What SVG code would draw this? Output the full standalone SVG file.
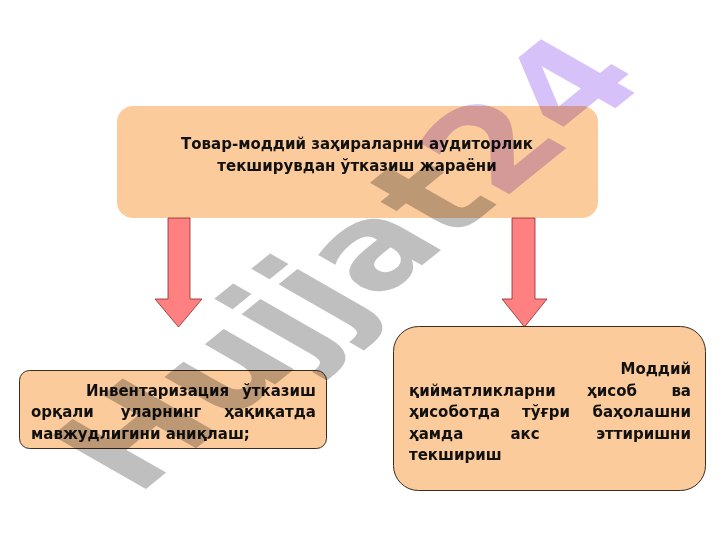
<svg xmlns="http://www.w3.org/2000/svg" width="720" height="540" viewBox="0 0 720 540">
  <style>
    .box { fill: #FCCB9B; }
    .boxs { fill: #FCCB9B; stroke: #3a2a20; stroke-width: 1; }
    .t { font-family: "DejaVu Sans", "Liberation Sans", sans-serif; font-weight: bold; font-size: 15px; fill: #111111; }
    .arrow { fill: #FF8080; stroke: #8a2a2a; stroke-width: 0.8; }
    .wm { font-family: "DejaVu Sans", "Liberation Sans", sans-serif; font-weight: bold; font-size: 114px; mix-blend-mode: multiply; }
  </style>
  <rect width="720" height="540" fill="#ffffff"/>

  <g id="node-top">
    <rect class="box" x="117" y="106" width="481" height="112" rx="16" ry="16"/>
    <text class="t" x="357" y="149" text-anchor="middle">Товар-моддий заҳираларни аудиторлик</text>
    <text class="t" x="357" y="171" text-anchor="middle">текширувдан ўтказиш жараёни</text>
  </g>

  <g id="connectors">
    <polygon class="arrow" points="168,218 190,218 190,299 202,299 178.5,327 155,299 168,299"/>
    <polygon class="arrow" points="512,218 535,218 535,299 547,299 524.5,327 502,299 512,299"/>
  </g>

  <g id="node-left">
    <rect class="boxs" x="19.5" y="370.5" width="307" height="78" rx="10" ry="10"/>
    <text class="t" x="86" y="396">Инвентаризация</text>
    <text class="t" x="316" y="396" text-anchor="end">ўтказиш</text>
    <text class="t" x="31" y="417">орқали</text>
    <text class="t" x="161" y="417" text-anchor="middle">уларнинг</text>
    <text class="t" x="316" y="417" text-anchor="end">ҳақиқатда</text>
    <text class="t" x="31" y="439">мавжудлигини аниқлаш;</text>
  </g>

  <g id="node-right">
    <rect class="boxs" x="393.5" y="326.5" width="312" height="164" rx="25" ry="25"/>
    <text class="t" x="691" y="374" text-anchor="end">Моддий</text>
    <text class="t" x="409" y="396">қийматликларни</text>
    <text class="t" x="612" y="396" text-anchor="middle">ҳисоб</text>
    <text class="t" x="691" y="396" text-anchor="end">ва</text>
    <text class="t" x="409" y="417">ҳисоботда</text>
    <text class="t" x="546" y="417" text-anchor="middle">тўғри</text>
    <text class="t" x="691" y="417" text-anchor="end">баҳолашни</text>
    <text class="t" x="409" y="439">ҳамда</text>
    <text class="t" x="525" y="439" text-anchor="middle">акс</text>
    <text class="t" x="691" y="439" text-anchor="end">эттиришни</text>
    <text class="t" x="409" y="460">текшириш</text>
  </g>

  <g id="watermark">
    <text class="wm" transform="translate(136,497) scale(1.47,1) rotate(-50)"><tspan fill="#808080" fill-opacity="0.5">Hujjat</tspan><tspan fill="#9966ee" fill-opacity="0.4">24</tspan></text>
  </g>
</svg>
